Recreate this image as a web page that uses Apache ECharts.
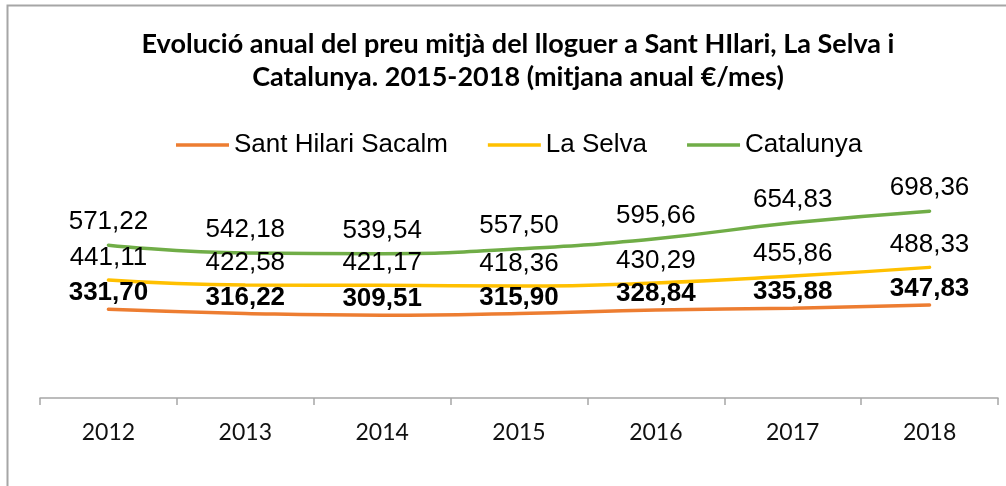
<!DOCTYPE html>
<html>
<head>
<meta charset="utf-8">
<script src="https://cdn.jsdelivr.net/npm/echarts@6/dist/echarts.min.js"></script>
<style>
  html, body { margin: 0; padding: 0; background: #fff; }
  #main { width: 1006px; height: 486px; }
</style>
</head>
<body>
<div id="main"></div>
<script>
const years = ['2012', '2013', '2014', '2015', '2016', '2017', '2018']
const santHilari = [331.70, 316.22, 309.51, 315.90, 328.84, 335.88, 347.83]
const laSelva = [441.11, 422.58, 421.17, 418.36, 430.29, 455.86, 488.33]
const catalunya = [571.22, 542.18, 539.54, 557.50, 595.66, 654.83, 698.36]

// etiquetes amb coma decimal
const fmt = (p) => p.value.toFixed(2).replace('.', ',')

const makeSeries = (name, data, color, bold, distance) => ({
  name: name,
  type: 'line',
  smooth: true,
  symbol: 'circle',
  symbolSize: 0.1,
  data: data,
  lineStyle: { color: color, width: 3.5, cap: 'round' },
  itemStyle: { color: color },
  label: {
    show: true,
    position: 'top',
    distance: distance,
    formatter: fmt,
    color: '#000',
    fontFamily: 'Liberation Sans, Arial',
    fontSize: 26,
    fontWeight: bold ? 'bold' : 'normal'
  }
})

var myChart = echarts.init(document.getElementById('main'))
var option = {
  animation: false,
  title: {
    text: 'Evolució anual del preu mitjà del lloguer a Sant HIlari, La Selva i\nCatalunya. 2015-2018 (mitjana anual €/mes)',
    left: 513,
    textAlign: 'center',
    top: 23,
    textStyle: {
      fontFamily: 'Lato',
      fontWeight: 'bold',
      fontSize: 27,
      lineHeight: 33,
      color: '#000'
    }
  },
  legend: {
    left: 171,
    top: 127,
    icon: 'rect',
    itemWidth: 53,
    itemHeight: 3.5,
    itemGap: 40,
    textStyle: {
      fontFamily: 'Liberation Sans, Arial',
      fontSize: 26,
      color: '#000'
    },
    data: ['Sant Hilari Sacalm', 'La Selva', 'Catalunya']
  },
  grid: {
    left: 40,
    right: 8,
    top: 184,
    bottom: 88
  },
  xAxis: {
    type: 'category',
    data: years,
    boundaryGap: true,
    axisLine: { show: true, lineStyle: { color: '#a6a6a6', width: 1.5 } },
    axisTick: { show: true, alignWithLabel: false, length: 7, lineStyle: { color: '#a6a6a6', width: 1.5 } },
    axisLabel: {
      margin: 23,
      fontFamily: 'Lato',
      fontSize: 23,
      color: '#111'
    }
  },
  yAxis: {
    type: 'value',
    min: 0,
    max: 800,
    show: false
  },
  graphic: [
    {
      type: 'rect',
      shape: { x: 7.5, y: 5.5, width: 1010, height: 500 },
      style: { fill: 'none', stroke: '#a6a6a6', lineWidth: 2 },
      silent: true
    }
  ],
  series: [
    makeSeries('Sant Hilari Sacalm', santHilari, '#ED7D31', true, 3),
    makeSeries('La Selva', laSelva, '#FFC000', false, 9),
    makeSeries('Catalunya', catalunya, '#70AD47', false, 10)
  ]
}
option && myChart.setOption(option)
</script>
</body>
</html>
